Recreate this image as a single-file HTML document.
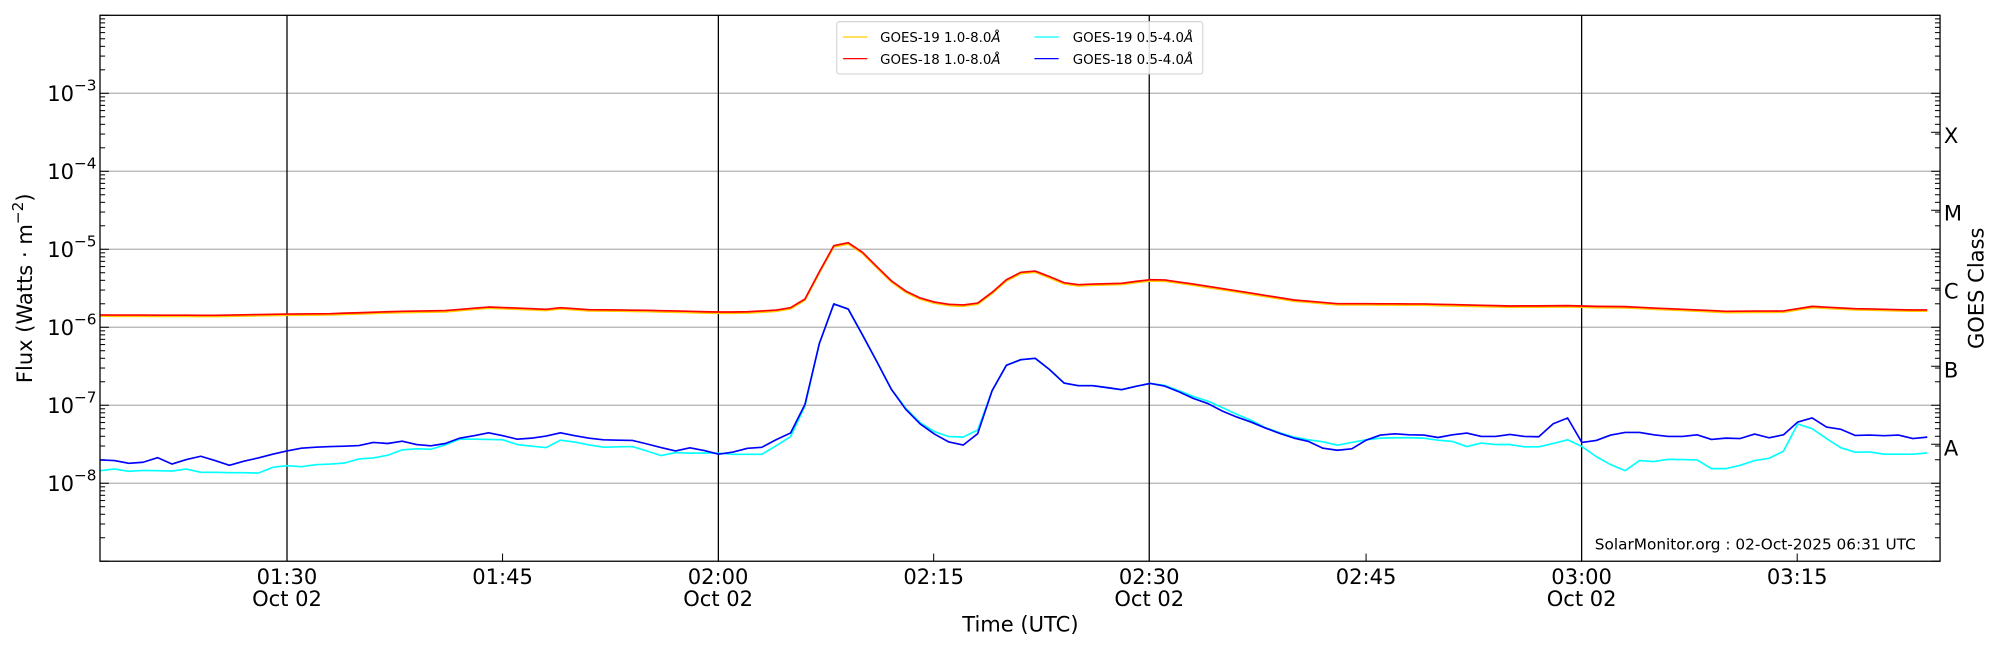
<!DOCTYPE html>
<html><head><meta charset="utf-8"><style>
html,body{margin:0;padding:0;background:#fff;}
svg{display:block;}
text{font-family:"DejaVu Sans","Liberation Sans",sans-serif;fill:#000;}
</style></head><body>
<svg id="s" width="2000" height="650" viewBox="0 0 1568 509.6" xmlns="http://www.w3.org/2000/svg">
<rect x="0" y="0" width="1568" height="509.6" fill="#fff"/>
<g id="grid" stroke="#b0b0b0" stroke-width="1"></g>
<g stroke="#000" stroke-width="1">
<line x1="225" y1="12" x2="225" y2="440"/>
<line x1="563.2" y1="12" x2="563.2" y2="440"/>
<line x1="901" y1="12" x2="901" y2="440"/>
<line x1="1240" y1="12" x2="1240" y2="440"/>
</g>
<g id="ticks" stroke="#000" stroke-width="0.8"></g>
<g id="series" fill="none" stroke-width="1.3" stroke-linejoin="round"></g>
<rect x="78.4" y="12" width="1442.6" height="428" fill="none" stroke="#000" stroke-width="1"/>
<g id="labels" font-size="16.5"></g>
<g font-size="16.5" text-anchor="middle">
<text x="225" y="458">01:30</text><text x="225" y="475">Oct 02</text>
<text x="394" y="458">01:45</text>
<text x="563" y="458">02:00</text><text x="563" y="475">Oct 02</text>
<text x="732" y="458">02:15</text>
<text x="901" y="458">02:30</text><text x="901" y="475">Oct 02</text>
<text x="1071" y="458">02:45</text>
<text x="1240" y="458">03:00</text><text x="1240" y="475">Oct 02</text>
<text x="1409" y="458">03:15</text>
<text x="800" y="495">Time (UTC)</text>
</g>
<text font-size="16.5" text-anchor="middle" transform="translate(25,226) rotate(-90)">Flux (Watts · m<tspan font-size="12" dy="-7">−2</tspan><tspan dy="7">)</tspan></text>
<text font-size="16.5" text-anchor="middle" transform="translate(1555,226) rotate(-90)">GOES Class</text>
<g font-size="16.5">
<text x="1524" y="112">X</text><text x="1524" y="173">M</text><text x="1524" y="234">C</text>
<text x="1524" y="296">B</text><text x="1524" y="357">A</text>
</g>
<text x="1502" y="431" font-size="12" text-anchor="end">SolarMonitor.org : 02-Oct-2025 06:31 UTC</text>
<g>
<rect x="656" y="17" width="287" height="41" rx="2" fill="#fff" fill-opacity="0.85" stroke="#d0d0d0" stroke-width="0.8"/>
<line x1="661" y1="29" x2="680" y2="29" stroke="#ffcc00" stroke-width="1"/>
<line x1="661" y1="46" x2="680" y2="46" stroke="#ff0000" stroke-width="1"/>
<line x1="811" y1="29" x2="830" y2="29" stroke="#00ffff" stroke-width="1"/>
<line x1="811" y1="46" x2="830" y2="46" stroke="#0000ff" stroke-width="1"/>
<g font-size="10.5">
<text x="690" y="33">GOES-19 1.0-8.0<tspan font-style="italic">Å</tspan></text>
<text x="690" y="50">GOES-18 1.0-8.0<tspan font-style="italic">Å</tspan></text>
<text x="841" y="33">GOES-19 0.5-4.0<tspan font-style="italic">Å</tspan></text>
<text x="841" y="50">GOES-18 0.5-4.0<tspan font-style="italic">Å</tspan></text>
</g>
</g>
</svg>
<script>
(function(){
var NS="http://www.w3.org/2000/svg";
function el(p,t,a){var e=document.createElementNS(NS,t);for(var k in a)e.setAttribute(k,a[k]);p.appendChild(e);return e;}
var top=12,dec=61.143,L=78.4,R=1521;
function yv(lg){return top+(-2-lg)*dec;}
var grid=document.getElementById('grid'),ticks=document.getElementById('ticks'),lab=document.getElementById('labels');
for(var d=-3;d>=-8;d--){var y=yv(d);el(grid,'line',{x1:L,x2:R,y1:y,y2:y});}
for(var d=-2;d>=-9;d--){
 var y=yv(d);
 el(ticks,'line',{x1:L,x2:L+7,y1:y,y2:y});el(ticks,'line',{x1:R,x2:R-7,y1:y,y2:y});
 if(d>-9){for(var m=2;m<=9;m++){var yy=yv(d-1+Math.log10(m));
  el(ticks,'line',{x1:L,x2:L+4,y1:yy,y2:yy});el(ticks,'line',{x1:R,x2:R-4,y1:yy,y2:yy});}}
 if(d<=-3&&d>=-8){var t=el(lab,'text',{x:37,y:y+6});t.textContent='10';
  var s=el(t,'tspan',{'font-size':'12','dy':'-8'});s.textContent='−'+(-d);}
}
for(var k=0;k<5;k++){var y=yv(-3.5-k);el(ticks,'line',{x1:R,x2:R-7,y1:y,y2:y});}
[394,732,1071,1409].forEach(function(x){el(ticks,'line',{x1:x,x2:x,y1:440,y2:434});});
function X(i){return L+i*11.28;}
function z4(v){return 317.7+(v-105)/3.8;}
function z5(v){return 172.5+v/3.827;}
function z8(v){return 256.6+(v-82)/3.83;}
var b4=[268,270,278,275,261,280,267,257,270,284,272,262,251,241,233,230,228,227,225,216,219,212,222,226,219,203,196,187,196,206,203,197,187,196,203,208,209,210,220,231,241,232,240,251];
var c4=[300,295,302,299,300,301,295,305,305,306,306,307,290,285,288,282,280,277,265,262,254,238,235,236,223,206,206,207,208,222,227,231,209,215,223,230,229,228,241,255,246,248,247,248];
var b5=[700,696,685,682,659,639,553,370,252,267,345,425,508,568,612,642,666,675,641,512,436,419,415,449,489,497,497,503,509,499];
var c5=[700,703,703,703,677,650,558,370,252,267,345,425,508,565,608,635,650,651,630,512,436,419,415,449,489,497,497,503,509,499];
var r5=[276,276,275,273,270,263,237,155,77,68,97,140,182,213,234,246,253,255,249,217,179,157,153,170,188,194,192,191,190,184,179,180,186,192];
var b6=[40,48,65,85,100,122,140,155,173,189,203,213,233,239,235,209,194,190,193,194,201,193,188,198,198,192,198,199,160,143,216,210,194,186,186,193,198,198,193,207,203,204,191,202,193,155,143,170,177,195,194,196,194,204,200];
var c6=[40,46,62,79,93,112,132,150,172,187,200,208,214,224,216,208,203,202,202,203,209,213,228,218,222,222,229,229,219,208,228,258,282,300,270,273,266,267,268,294,294,284,270,263,242,161,175,204,232,245,244,251,251,251,247];
var B=[],C=[],Rd=[];
for(var i=0;i<44;i++){B[i]=z4(b4[i]);C[i]=z4(c4[i]);}
for(var j=1;j<30;j++){B[43+j]=z5(b5[j]);C[43+j]=z5(c5[j]);}
for(var k=0;k<55;k++){B[73+k]=z4(b6[k]);C[73+k]=z4(c6[k]);}
var anch=[[0,z8(45)],[8,z8(46)],[13,z8(42)],[16,z8(41)],[21,z8(34)],[24,z8(32)],[27,z8(21)],[29,z8(24)],[31,z8(28)],[32,z8(23)],[34,z8(29)],[38,z8(31)],[43,z5(276)]];
for(var j=1;j<34;j++)anch.push([43+j,z5(r5[j])]);
[[83,0],[86,11],[92,12],[98,18],[102,17],[104,19],[106,20],[113,34],[117,33],[119,19],[122,26],[126,30],[127,30]].forEach(function(a){anch.push([a[0],z8(a[1])]);});
for(var a=0;a<anch.length-1;a++){var i0=anch[a][0],i1=anch[a+1][0];
 for(var i=i0;i<=i1;i++)Rd[i]=anch[a][1]+(anch[a+1][1]-anch[a][1])*(i-i0)/(i1-i0);}
function pts(A,off){var s=[];for(var i=0;i<A.length;i++)s.push(X(i).toFixed(1)+','+(A[i]+(off||0)).toFixed(1));return s.join(' ');}
var g=document.getElementById('series');
el(g,'polyline',{points:pts(C),stroke:'#00ffff'});
el(g,'polyline',{points:pts(B),stroke:'#0000ff'});
el(g,'polyline',{points:pts(Rd,1),stroke:'#ffcc00'});
el(g,'polyline',{points:pts(Rd),stroke:'#ff0000'});
})();
</script>
</body></html>
